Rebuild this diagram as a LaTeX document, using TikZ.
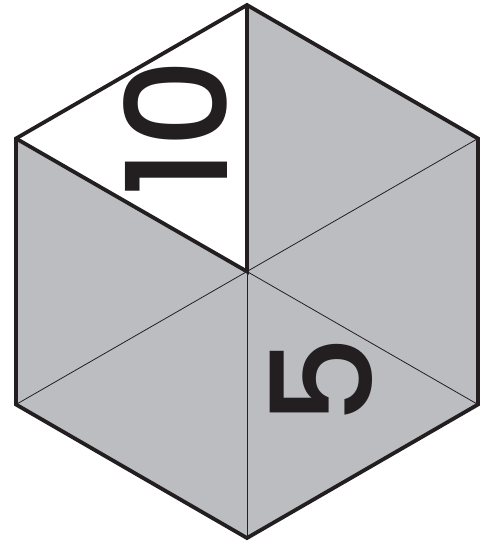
\documentclass[tikz,border=0pt]{standalone}
\usepackage{fontspec}
\newfontfamily\digitfont{Poppins}[UprightFont=* Medium]
\usetikzlibrary{calc}

\definecolor{facegray}{HTML}{BCBDC0}
\definecolor{inkdark}{HTML}{231F20}

\begin{document}
\begin{tikzpicture}[
    x=1pt, y=-1pt,
    edge/.style={draw=inkdark, line width=3.8pt, line join=miter},
    spoke/.style={draw=inkdark, line width=0.8pt},
    digit/.style={font=\digitfont\fontsize{140}{140}\selectfont,
                  text=inkdark, inner sep=0pt, rotate=90}
  ]
  \useasboundingbox (0,0) rectangle (489,542);

  % corners of the hexagon
  \coordinate (ctr) at (247,271.5);
  \coordinate (top) at (247,5);
  \coordinate (ur)  at (478,138.5);
  \coordinate (lr)  at (478,404.5);
  \coordinate (bot) at (247,538);
  \coordinate (ll)  at (16,404.5);
  \coordinate (ul)  at (16,138.5);

  % faces
  \fill[facegray] (top) -- (ur) -- (lr) -- (bot) -- (ll) -- (ul) -- cycle;
  \fill[white] (ctr) -- (ul) -- (top) -- cycle;

  % spokes
  \draw[spoke] (ctr) -- (ur);
  \draw[spoke] (ctr) -- (lr);
  \draw[spoke] (ctr) -- (bot);
  \draw[spoke] (ctr) -- (ll);
  \draw[edge] (ul) -- (ctr) -- (top);

  % outline
  \draw[edge] (top) -- (ur) -- (lr) -- (bot) -- (ll) -- (ul) -- cycle;

  \node[digit] (ten) at (176,128) {10};
  \node[digit] (five) at (321,381) {5};
\end{tikzpicture}
\end{document}
